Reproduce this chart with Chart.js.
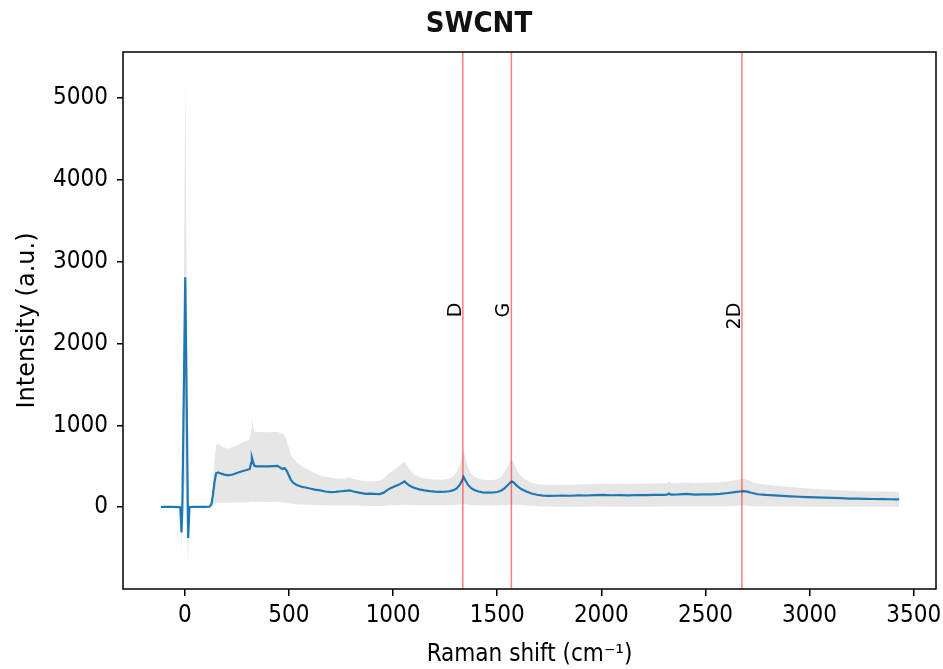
<!DOCTYPE html>
<html>
<head>
<meta charset="utf-8">
<script src="https://cdn.jsdelivr.net/npm/chart.js@4.4.1/dist/chart.umd.min.js"></script>
<style>
  html, body { margin: 0; padding: 0; background: #fff; }
  #wrap { width: 943px; height: 669px; position: relative; }
</style>
</head>
<body>
<div id="wrap"><canvas id="c" width="943" height="669"></canvas></div>
<script>
// ---- data ----
const chartTitle = "SWCNT";
const xLabel = "Raman shift (cm\u207B\u00B9)";
const yLabel = "Intensity (a.u.)";

const shift = [-115,-90,-60,-35,-22,-16,-12,2,16,22,40,70,100,120,128,135,142,150,160,175,190,207,230,250,275,300,312,318,322,327,334,345,370,400,425,445,460,468,478,485,492,500,510,520,535,560,585,600,625,650,675,700,725,750,770,790,810,830,850,870,890,910,935,955,975,995,1015,1035,1055,1065,1080,1100,1125,1150,1175,1200,1225,1250,1270,1290,1305,1320,1330,1338,1347,1360,1375,1390,1410,1430,1455,1480,1500,1520,1535,1550,1562,1570,1580,1595,1615,1640,1665,1690,1720,1750,1780,1810,1850,1890,1930,1970,2010,2050,2090,2130,2170,2210,2250,2290,2315,2325,2335,2370,2410,2450,2490,2530,2570,2610,2640,2665,2685,2700,2720,2750,2790,2830,2870,2910,2950,2990,3030,3070,3110,3150,3190,3230,3270,3310,3350,3390,3430];

const meanIntensity = [5,3,4,2,0,-310,0,2810,-375,0,3,5,4,8,40,150,300,415,425,410,398,390,400,418,440,458,468,540,605,560,505,500,498,500,503,505,480,468,478,462,430,385,330,300,275,250,238,228,215,205,192,185,188,195,200,205,192,182,172,162,166,164,160,178,215,240,262,285,315,290,262,238,218,205,196,190,188,190,195,208,230,272,320,372,330,272,232,210,192,182,178,180,186,204,230,268,298,315,300,260,222,192,168,152,142,138,140,142,140,145,143,148,150,146,148,145,149,147,150,151,152,168,153,156,162,155,158,156,162,174,184,192,196,190,176,158,150,145,138,132,128,124,120,116,113,110,106,104,102,100,99,97,96];

const upperIntensity = [15,14,16,15,20,-70,25,5280,-50,20,14,15,16,20,90,320,560,760,775,745,728,715,735,755,790,815,835,960,1115,1000,925,920,918,915,918,922,905,895,885,850,780,720,640,595,555,500,470,445,415,392,372,362,352,348,352,362,345,335,322,315,316,318,322,350,405,440,475,520,560,515,460,400,370,352,344,340,336,338,350,380,430,520,610,705,610,480,410,372,348,336,332,334,342,375,430,500,555,585,540,445,375,330,300,285,276,272,272,276,275,280,280,284,286,284,286,285,288,287,290,292,294,315,294,296,302,296,300,300,306,318,330,342,348,335,315,290,275,266,255,246,238,230,224,217,212,206,200,197,195,193,192,190,188];

const lowerIntensity = [-8,-9,-8,-10,-20,-560,-30,340,-700,-15,-8,-6,-7,-5,5,15,30,50,55,55,55,55,58,60,60,62,62,65,70,68,65,65,66,65,66,66,62,60,58,55,50,48,42,38,35,32,30,30,28,26,24,22,22,22,22,22,20,20,18,16,16,16,16,18,22,24,26,28,30,30,28,28,26,25,25,24,24,24,26,28,30,32,34,36,34,30,27,25,22,20,20,20,22,24,26,28,30,30,30,28,26,22,18,14,10,8,6,6,5,7,6,8,8,6,6,5,6,5,7,8,8,12,8,9,11,10,10,9,10,13,16,20,20,18,14,10,9,9,8,8,8,7,7,6,6,6,5,5,5,5,5,5,5];

const peakNames = ["D", "G", "2D"];
const peakShifts = [1335, 1568, 2675];
const peakLabelY = 2500;

const xTicks = [0, 500, 1000, 1500, 2000, 2500, 3000, 3500];
const yTicks = [0, 1000, 2000, 3000, 4000, 5000];
const xRange = [-297, 3607];
const yRange = [-1000, 5565];

// ---- build ----
const toXY = (arr) => shift.map((x, i) => ({ x: x, y: arr[i] }));

const condensed = "'DejaVu Sans Condensed', 'DejaVu Sans', sans-serif";
const regular = "'DejaVu Sans', sans-serif";

const frameAndPeaks = {
  id: 'frameAndPeaks',
  afterDatasetsDraw(chart) {
    const { ctx, chartArea: a, scales: { x, y } } = chart;
    ctx.save();
    ctx.beginPath();
    ctx.rect(a.left, a.top, a.right - a.left, a.bottom - a.top);
    ctx.clip();
    ctx.strokeStyle = 'rgba(255,0,0,0.5)';
    ctx.lineWidth = 1.5;
    peakShifts.forEach((p) => {
      const px = x.getPixelForValue(p);
      ctx.beginPath();
      ctx.moveTo(px, a.top);
      ctx.lineTo(px, a.bottom);
      ctx.stroke();
    });
    ctx.restore();

    ctx.save();
    ctx.fillStyle = '#000';
    ctx.font = "19px " + regular;
    peakShifts.forEach((p, i) => {
      const px = x.getPixelForValue(p);
      const py = y.getPixelForValue(peakLabelY);
      ctx.save();
      ctx.translate(px - 2, py);
      ctx.rotate(-Math.PI / 2);
      ctx.textAlign = 'right';
      ctx.textBaseline = 'alphabetic';
      ctx.fillText(peakNames[i], 0, 0);
      ctx.restore();
    });
    ctx.restore();
  },
  afterDraw(chart) {
    const { ctx, chartArea: a } = chart;
    ctx.save();
    ctx.strokeStyle = '#000';
    ctx.lineWidth = 1.5;
    ctx.strokeRect(a.left, a.top, a.right - a.left, a.bottom - a.top);
    ctx.fillStyle = '#111';
    ctx.font = "bold 29px " + condensed;
    ctx.textAlign = 'center';
    ctx.textBaseline = 'middle';
    ctx.fillText(chartTitle, 479, 24);
    ctx.restore();
  }
};

new Chart(document.getElementById('c'), {
  type: 'line',
  data: {
    datasets: [
      {
        label: 'upper',
        data: toXY(upperIntensity),
        borderWidth: 0,
        borderColor: 'rgba(0,0,0,0)',
        backgroundColor: 'rgba(128,128,128,0.2)',
        pointRadius: 0,
        fill: '+1',
        order: 2
      },
      {
        label: 'lower',
        data: toXY(lowerIntensity),
        borderWidth: 0,
        borderColor: 'rgba(0,0,0,0)',
        pointRadius: 0,
        fill: false,
        order: 3
      },
      {
        label: 'mean',
        data: toXY(meanIntensity),
        borderColor: '#1f77b4',
        borderWidth: 2.2,
        pointRadius: 0,
        fill: false,
        order: 1
      }
    ]
  },
  options: {
    responsive: false,
    animation: false,
    devicePixelRatio: 1,
    layout: { padding: { top: 52, right: 7, left: 0, bottom: 0 } },
    plugins: {
      legend: { display: false },
      title: { display: false },
      tooltip: { enabled: false }
    },
    elements: { line: { tension: 0 } },
    scales: {
      x: {
        type: 'linear',
        min: xRange[0],
        max: xRange[1],
        border: { display: false },
        grid: { display: true, drawOnChartArea: false, drawTicks: true, tickLength: 7, color: '#000', lineWidth: 1.5 },
        ticks: { stepSize: 500, includeBounds: false, color: '#000', padding: 5, maxRotation: 0, font: { family: condensed, size: 24 }, callback: (v) => String(v) },
        afterBuildTicks: (s) => { s.ticks = xTicks.map(v => ({ value: v })); },
        afterFit: (s) => { s.height = 80; s.paddingLeft = 0; s.paddingRight = 0; },
        title: { display: true, text: xLabel, color: '#000', padding: { top: 0, bottom: 0 }, font: { family: condensed, size: 24 } }
      },
      y: {
        type: 'linear',
        min: yRange[0],
        max: yRange[1],
        border: { display: false },
        grid: { display: true, drawOnChartArea: false, drawTicks: true, tickLength: 6, color: '#000', lineWidth: 1.5 },
        ticks: { stepSize: 1000, includeBounds: false, color: '#000', padding: 9, font: { family: condensed, size: 24 }, callback: (v) => String(v) },
        afterBuildTicks: (s) => { s.ticks = yTicks.map(v => ({ value: v })); },
        afterFit: (s) => { s.width = 123; s.paddingTop = 0; s.paddingBottom = 0; },
        title: { display: true, text: yLabel, color: '#000', padding: { top: 13, bottom: 0 }, font: { family: regular, size: 24 } }
      }
    }
  },
  plugins: [frameAndPeaks]
});
</script>
</body>
</html>
